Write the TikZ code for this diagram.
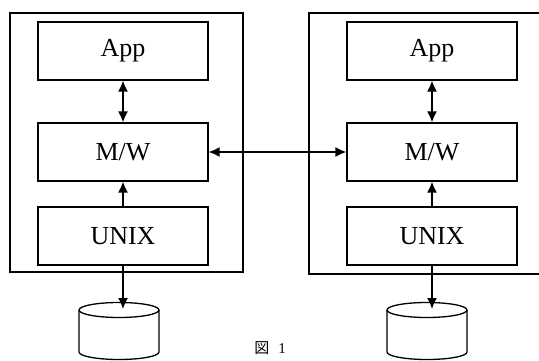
\documentclass[tikz,border=0pt]{standalone}
\usepackage{fontspec}
\setmainfont{Liberation Serif}
\newfontfamily\cjk{Noto Sans CJK JP}
\usetikzlibrary{arrows.meta, positioning}

\begin{document}
\begin{tikzpicture}[x=1pt,y=-1pt,>={Latex[length=11pt,width=10pt]},
    layer/.style={draw, line width=1.3pt, minimum width=170pt, minimum height=58pt,
                  inner sep=0pt, font=\fontsize{26}{28}\selectfont},
    link/.style={line width=1.5pt}]
    \useasboundingbox (0,0) rectangle (539,361);

    % hosts
    \draw[line width=1.3pt] (10,13) rectangle (243,272);
    \draw[line width=1.3pt] (545,13) -- (309,13) -- (309,274) -- (545,274);

    % layers
    \node[layer] (appL)  at (123,51)  {App};
    \node[layer] (mwL)   at (123,152) {M/W};
    \node[layer] (unixL) at (123,236) {UNIX};
    \node[layer] (appR)  at (432,51)  {App};
    \node[layer] (mwR)   at (432,152) {M/W};
    \node[layer] (unixR) at (432,236) {UNIX};

    % disks
    \foreach \cx/\nm in {119/dbL, 427/dbR} {
      \draw[line width=1.3pt] (\cx,310) ellipse [x radius=40, y radius=7.5];
      \draw[line width=1.3pt] (\cx-40,310) -- (\cx-40,352)
        arc[start angle=180, end angle=0, x radius=40, y radius=7.5] -- (\cx+40,310);
      \coordinate (\nm) at (\cx,309);
    }

    % links
    \draw[link, <->] (appL.south) -- (mwL.north);
    \draw[link, <->] (appR.south) -- (mwR.north);
    \draw[link, ->] (unixL.north) -- (mwL.south);
    \draw[link, ->] (unixR.north) -- (mwR.south);
    \draw[link, <->] (mwL.east) -- (mwR.west);
    \draw[link, ->] (unixL.south) -- (unixL.south |- dbL);
    \draw[link, ->] (unixR.south) -- (unixR.south |- dbR);

    % caption
    \node[font=\fontsize{15}{17}\selectfont] (cap) at (270,348) {{\cjk 図}\hspace{9pt}1};
  \end{tikzpicture}
\end{document}
